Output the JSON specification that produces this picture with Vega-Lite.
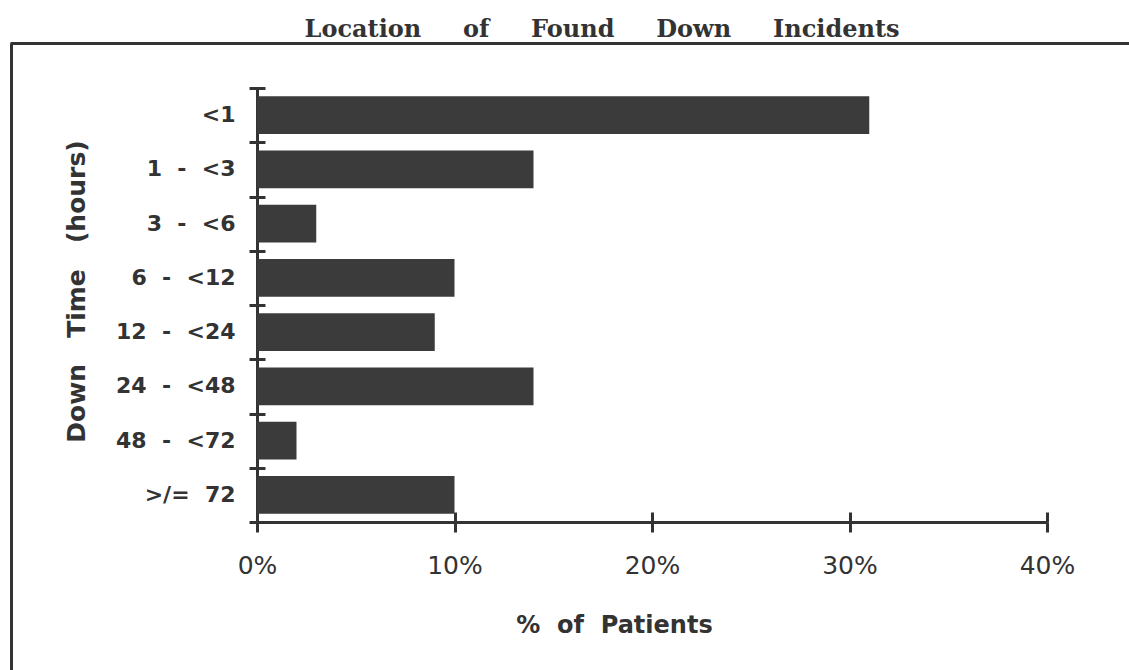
{
  "$schema": "https://vega.github.io/schema/vega-lite/v6.json",
  "width": 790,
  "height": 434,
  "autosize": "none",
  "padding": {"left": 257, "top": 88, "right": 82, "bottom": 148},
  "background": "white",
  "config": {"view": {"stroke": null}},
  "title": {
    "text": "Location\u00a0\u00a0\u00a0\u00a0\u00a0of\u00a0\u00a0\u00a0\u00a0\u00a0Found\u00a0\u00a0\u00a0\u00a0\u00a0Down\u00a0\u00a0\u00a0\u00a0\u00a0Incidents",
    "font": "DejaVu Serif",
    "fontSize": 24,
    "fontWeight": "bold",
    "color": "#333333",
    "anchor": "middle",
    "frame": "group",
    "dx": -50,
    "dy": 22,
    "baseline": "alphabetic",
    "offset": 4
  },
  "data": {
    "values": [
      {"cat": "<1", "pct": 31},
      {"cat": "1 - <3", "pct": 14},
      {"cat": "3 - <6", "pct": 3},
      {"cat": "6 - <12", "pct": 10},
      {"cat": "12 - <24", "pct": 9},
      {"cat": "24 - <48", "pct": 14},
      {"cat": "48 - <72", "pct": 2},
      {"cat": ">/= 72", "pct": 10}
    ]
  },
  "layer": [
    {
      "data": {"values": [{"fx": 0, "fy": 0}]},
      "mark": {"type": "point", "opacity": 0},
      "encoding": {
        "x": {
          "field": "fx", "type": "quantitative",
          "scale": {"domain": [0, 1], "range": [-247, 872], "nice": false, "zero": false},
          "axis": {"orient": "top", "offset": 45, "ticks": false, "labels": false, "grid": false, "title": null, "domainWidth": 3, "domainColor": "#333333"}
        },
        "y": {
          "field": "fy", "type": "quantitative",
          "scale": {"domain": [0, 1], "range": [582, -45], "nice": false, "zero": false},
          "axis": {"orient": "left", "offset": 246, "ticks": false, "labels": false, "grid": false, "title": null, "domainWidth": 3, "domainColor": "#333333"}
        }
      }
    },
    {
      "mark": {"type": "bar", "color": "#3b3b3b"},
      "encoding": {
        "x": {
          "field": "pct", "type": "quantitative",
          "scale": {"domain": [0, 40], "nice": false},
          "axis": {
            "orient": "bottom", "values": [0, 10, 20, 30, 40],
            "labelExpr": "datum.value + '%'", "labelFlush": false,
            "labelFont": "DejaVu Sans", "labelFontSize": 25, "labelColor": "#333333", "labelPadding": 21,
            "tickSize": 10, "tickWidth": 3, "tickColor": "#333333",
            "domainWidth": 3, "domainColor": "#333333", "grid": false,
            "title": "%\u00a0\u00a0of\u00a0\u00a0Patients",
            "titleFont": "DejaVu Sans", "titleFontSize": 24, "titleFontWeight": "bold", "titleColor": "#333333",
            "titleX": 357, "titleY": 110, "titleBaseline": "alphabetic"
          }
        },
        "y": {
          "field": "cat", "type": "nominal", "sort": null,
          "scale": {"paddingInner": 0.3, "paddingOuter": 0.15},
          "axis": {
            "orient": "left",
            "labelExpr": "join(split(datum.label, ' '), '\u00a0\u00a0')",
            "labelFont": "DejaVu Sans", "labelFontSize": 22, "labelFontWeight": "bold", "labelColor": "#333333", "labelPadding": 14,
            "tickSize": 8, "tickOpacity": 0,
            "domainWidth": 3, "domainColor": "#333333", "grid": false,
            "title": "Down\u00a0\u00a0\u00a0Time\u00a0\u00a0\u00a0(hours)",
            "titleFont": "DejaVu Sans", "titleFontSize": 25, "titleFontWeight": "bold", "titleColor": "#333333",
            "titleX": -173, "titleY": 203, "titleBaseline": "alphabetic"
          }
        }
      }
    },
    {
      "data": {"values": [{"tx": 0, "ty": 0}]},
      "mark": {"type": "point", "opacity": 0},
      "encoding": {
        "x": {
          "field": "tx", "type": "quantitative",
          "scale": {"domain": [0, 40], "nice": false},
          "axis": {"orient": "bottom", "values": [0, 10, 20, 30, 40], "labels": false, "domain": false, "grid": false, "title": null, "tickSize": -10, "tickWidth": 3, "tickColor": "#333333"}
        },
        "y": {
          "field": "ty", "type": "quantitative",
          "scale": {"domain": [0, 8], "nice": false, "reverse": true},
          "axis": {"orient": "left", "values": [0, 1, 2, 3, 4, 5, 6, 7, 8], "offset": -8, "tickSize": 16, "labels": false, "domain": false, "grid": false, "title": null, "tickWidth": 3, "tickColor": "#333333"}
        }
      }
    }
  ],
  "resolve": {
    "scale": {"x": "independent", "y": "independent"},
    "axis": {"x": "independent", "y": "independent"}
  }
}
